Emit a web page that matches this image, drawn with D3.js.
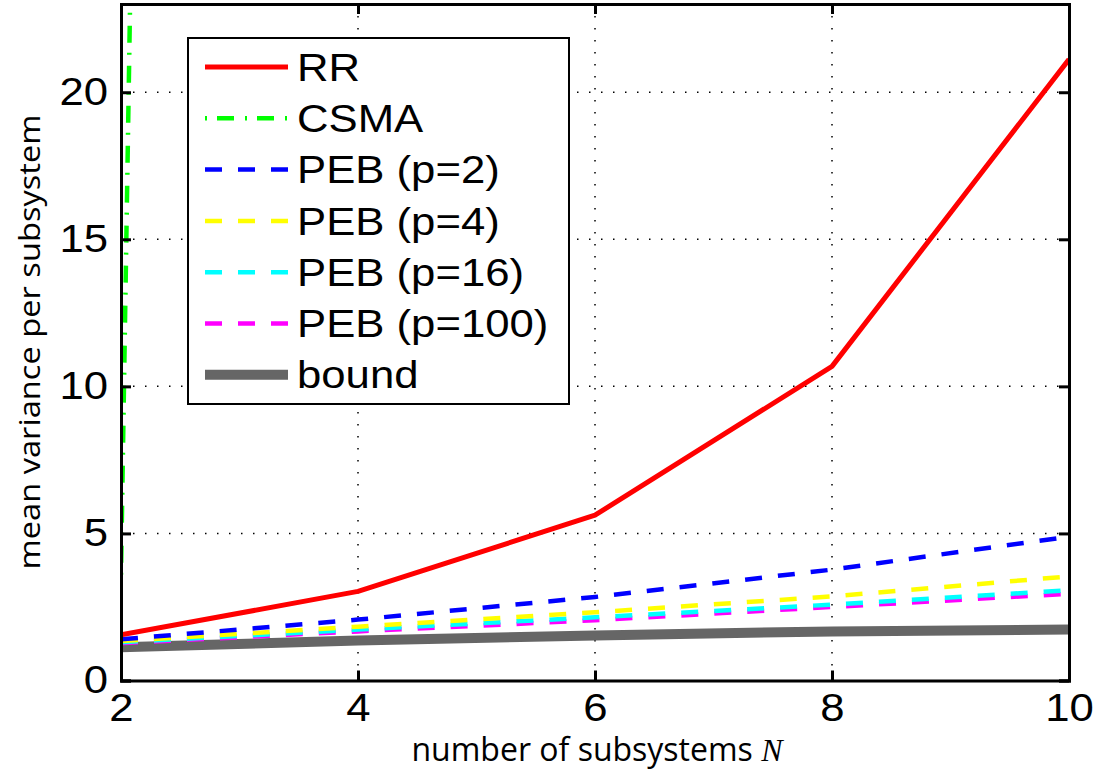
<!DOCTYPE html>
<html><head><meta charset="utf-8">
<script src="https://cdn.jsdelivr.net/npm/d3@7"></script>
<style>body{margin:0;background:#fff}svg{display:block}</style>
</head><body>
<svg id="c" width="1102" height="771"></svg>
<script>
const N = [2, 4, 6, 8, 10];
const rr = [1.55, 3.03, 5.62, 10.68, 21.12];
const csma = [3.6, 510, null, null, null];
const peb2 = [1.4, 2.07, 2.84, 3.77, 4.89];
const peb4 = [1.34, 1.83, 2.32, 2.86, 3.54];
const peb16 = [1.3, 1.73, 2.15, 2.58, 3.07];
const peb100 = [1.27, 1.67, 2.05, 2.5, 2.95];
const bound = [1.13, 1.36, 1.53, 1.67, 1.73];
const xTicks = [2, 4, 6, 8, 10];
const yTicks = [0, 5, 10, 15, 20];
const labels = ["RR", "CSMA", "PEB (p=2)", "PEB (p=4)", "PEB (p=16)", "PEB (p=100)", "bound"];

const series = [
  {name: labels[0], v: rr, color: "#ff0000", w: 5, dash: null},
  {name: labels[1], v: csma, color: "#00ff00", w: 4.5, dash: "2,10,17,11"},
  {name: labels[2], v: peb2, color: "#0000ff", w: 4.5, dash: "17,16"},
  {name: labels[3], v: peb4, color: "#ffff00", w: 4.5, dash: "17,16"},
  {name: labels[4], v: peb16, color: "#00ffff", w: 4.5, dash: "17,16"},
  {name: labels[5], v: peb100, color: "#ff00ff", w: 4.5, dash: "17,16"},
  {name: labels[6], v: bound, color: "#666666", w: 10, dash: null}
];

const L = 121, R = 1069, T = 4, B = 680.5;
const x = d3.scaleLinear().domain([2, 10]).range([L, R]);
const y = d3.scaleLinear().domain([0, 23]).range([B, T]);
const svg = d3.select("#c");
const SX = 1.15;

svg.append("defs").append("clipPath").attr("id", "clip")
  .append("rect").attr("x", L).attr("y", T).attr("width", R - L).attr("height", B - T);

// grid
const grid = svg.append("g");
grid.selectAll(".gx").data(xTicks.filter(t => t > 2 && t < 10)).join("line")
  .attr("x1", d => x(d)).attr("x2", d => x(d)).attr("y1", T).attr("y2", B)
  .attr("stroke", "#000").attr("stroke-width", 1.5).attr("stroke-dasharray", "1.5,10.5");
grid.selectAll(".gy").data(yTicks.filter(t => t > 0)).join("line")
  .attr("y1", d => y(d)).attr("y2", d => y(d)).attr("x1", L).attr("x2", R)
  .attr("stroke", "#000").attr("stroke-width", 1.5).attr("stroke-dasharray", "1.5,10.5");

// lines
const line = d3.line().defined(d => d[1] !== null).x(d => x(d[0])).y(d => y(d[1]));
const plot = svg.append("g").attr("clip-path", "url(#clip)");
series.slice().reverse().forEach(s => {
  plot.append("path").datum(N.map((n, i) => [n, s.v[i]]))
    .attr("d", line).attr("fill", "none").attr("stroke", s.color)
    .attr("stroke-width", s.w).attr("stroke-dasharray", s.dash)
    .attr("stroke-linejoin", "round");
});

// axes
const font = "Liberation Sans, Arial, sans-serif";
const axB = svg.append("g").attr("transform", `translate(0,${B})`)
  .call(d3.axisBottom(x).tickValues(xTicks).tickSize(-10).tickPadding(14).tickFormat(d3.format("d")));
const axT = svg.append("g").attr("transform", `translate(0,${T})`)
  .call(d3.axisTop(x).tickValues(xTicks).tickSize(-10).tickFormat(""));
const axL = svg.append("g").attr("transform", `translate(${L},0)`)
  .call(d3.axisLeft(y).tickValues(yTicks).tickSize(-10).tickPadding(13).tickFormat(d3.format("d")));
const axR = svg.append("g").attr("transform", `translate(${R},0)`)
  .call(d3.axisRight(y).tickValues(yTicks).tickSize(-10).tickFormat(""));
[axB, axT, axL, axR].forEach(a => {
  a.select(".domain").attr("stroke", "#000").attr("stroke-width", 3);
  a.selectAll(".tick line").attr("stroke", "#000").attr("stroke-width", 3);
  a.selectAll("text").attr("font-family", font).attr("font-size", 38).attr("fill", "#000");
});
axB.selectAll(".tick text").attr("dy", "0.71em").each(function() {
  const t = d3.select(this); const yy = +t.attr("y");
  t.attr("transform", `translate(0,${yy}) scale(${SX},1) translate(0,${-yy})`);
});
axL.selectAll(".tick text").each(function() {
  const t = d3.select(this); const xx = +t.attr("x");
  t.attr("transform", `translate(${xx},0) scale(${SX},1) translate(${-xx},0)`);
});

// axis labels
const lab = "'Open Sans', 'DejaVu Sans', sans-serif";
const xl = svg.append("text").attr("x", 597).attr("y", 761).attr("text-anchor", "middle")
  .attr("font-family", lab).attr("font-size", 32).attr("fill", "#000");
xl.append("tspan").text("number of subsystems ");
xl.append("tspan").attr("font-family", "Liberation Serif, serif").attr("font-style", "italic").text("N");
svg.append("text").attr("transform", "translate(40,342) rotate(-90)").attr("text-anchor", "middle")
  .attr("font-family", lab).attr("font-size", 29).attr("fill", "#000")
  .attr("textLength", 455).attr("lengthAdjust", "spacingAndGlyphs")
  .text("mean variance per subsystem");

// legend
const lg = svg.append("g");
lg.append("rect").attr("x", 188).attr("y", 38).attr("width", 381).attr("height", 366)
  .attr("fill", "#fff").attr("stroke", "#000").attr("stroke-width", 2);
series.forEach((s, i) => {
  const yy = 67 + i * 51.3;
  lg.append("line").attr("x1", 205).attr("x2", 288).attr("y1", yy).attr("y2", yy)
    .attr("stroke", s.color).attr("stroke-width", s.w).attr("stroke-dasharray", s.dash);
  lg.append("text").attr("transform", `translate(297,${yy}) scale(${SX},1)`).attr("dy", "0.36em")
    .attr("font-family", font).attr("font-size", 38).attr("fill", "#000").text(s.name);
});
</script>
</body></html>
